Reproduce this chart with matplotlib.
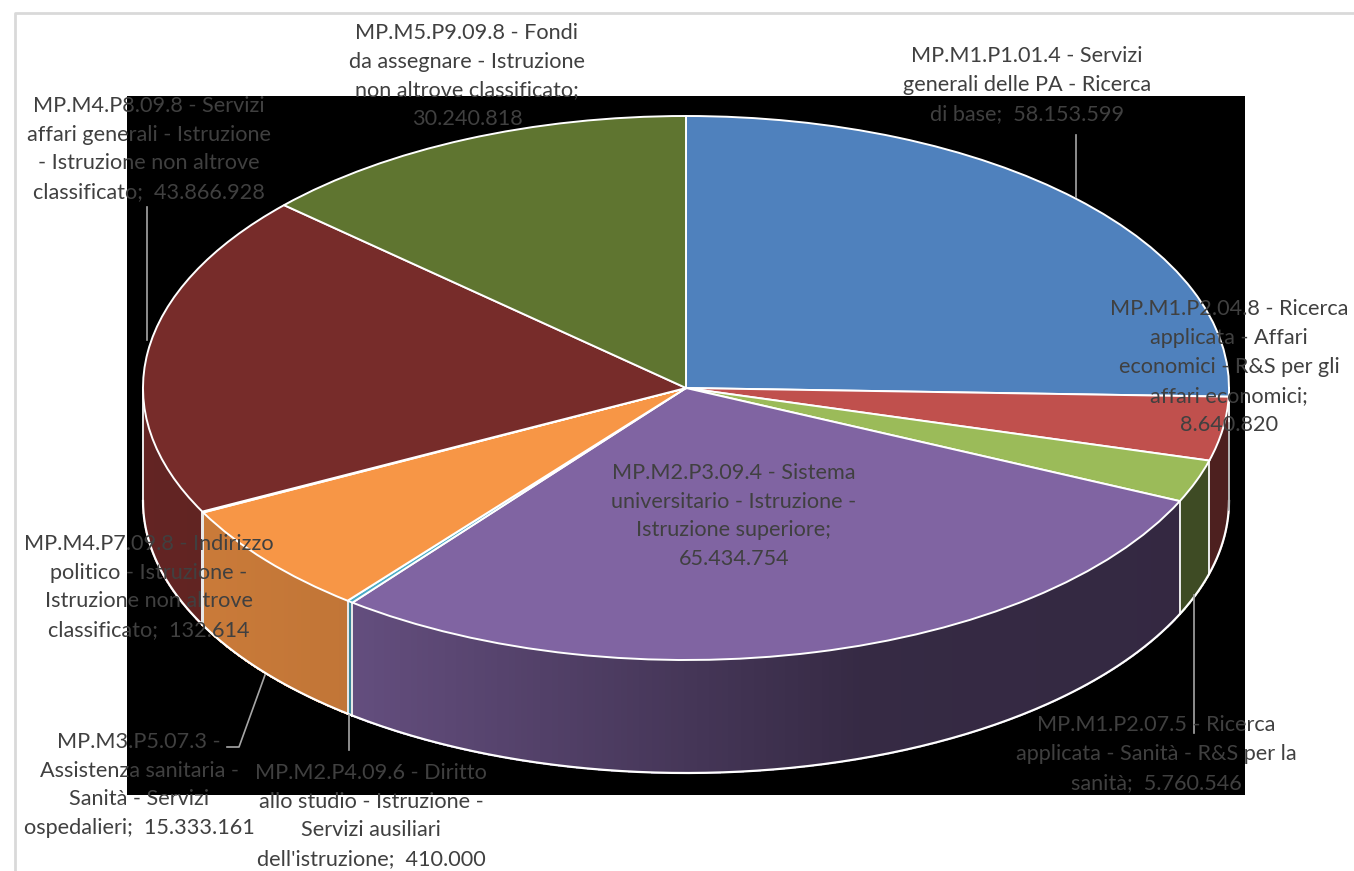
import numpy as np
import matplotlib
matplotlib.use('Agg')
import matplotlib.pyplot as plt
from matplotlib.colors import to_rgb
from matplotlib.lines import Line2D
from matplotlib.patches import Rectangle

# chart data
codes = ['MP.M1.P1.01.4', 'MP.M1.P2.04.8', 'MP.M1.P2.07.5', 'MP.M2.P3.09.4', 'MP.M2.P4.09.6',
         'MP.M3.P5.07.3', 'MP.M4.P7.09.8', 'MP.M4.P8.09.8', 'MP.M5.P9.09.8']
values = [58153599, 8640820, 5760546, 65434754, 410000, 15333161, 132614, 43866928, 30240818]
colors = ['#4f81bd', '#c0504d', '#9bbb59', '#8064a2', '#4bacc6', '#f79646', '#2c4d75', '#772c2a', '#5f7530']
labels = ['MP.M1.P1.01.4 - Servizi\ngenerali delle PA - Ricerca\ndi base;  58.153.599',
          'MP.M1.P2.04.8 - Ricerca\napplicata - Affari\neconomici - R&S per gli\naffari economici;\n8.640.820',
          'MP.M1.P2.07.5 - Ricerca\napplicata - Sanità - R&S per la\nsanità;  5.760.546',
          'MP.M2.P3.09.4 - Sistema\nuniversitario - Istruzione -\nIstruzione superiore;\n65.434.754',
          "MP.M2.P4.09.6 - Diritto\nallo studio - Istruzione -\nServizi ausiliari\ndell'istruzione;  410.000",
          'MP.M3.P5.07.3 -\nAssistenza sanitaria -\nSanità - Servizi\nospedalieri;  15.333.161',
          'MP.M4.P7.09.8 - Indirizzo\npolitico - Istruzione -\nIstruzione non altrove\nclassificato;  132.614',
          'MP.M4.P8.09.8 - Servizi\naffari generali - Istruzione\n- Istruzione non altrove\nclassificato;  43.866.928',
          'MP.M5.P9.09.8 - Fondi\nda assegnare - Istruzione\nnon altrove classificato;\n30.240.818']

W, H = 1354, 871
label_pos = [(1027, 85), (1229, 367), (1156, 754), (734, 516), (371, 816),
             (139, 785), (149, 587), (149, 149), (467, 76)]
# leader lines in pixels
leaders = [([1076, 1076], [135, 197]), ([1229, 1229], [423, 510]), ([1194, 1194], [595, 733]),
           ([349, 349], [715, 750]), ([265, 239, 227], [675, 747, 747]), ([147, 147], [207, 340])]


def px(x, y):
    return x / W, 1 - y / H


fig = plt.figure(figsize=(W / 100, H / 100), dpi=100, facecolor='white')

# chart frame and the black plot area
fig.add_artist(Line2D([15 / W, 15 / W, 1], [0, 1 - 13 / H, 1 - 13 / H], color='#d9d9d9', lw=2, zorder=0))
fig.add_artist(Rectangle(px(127, 795), (1245 - 127) / W, (795 - 96) / H, color='black', lw=0, zorder=0))

# the pie axes stretch the unit circle into the tilted ellipse
depth = 113 / 272
left, right, top, bottom = 143, 1229, 116, 773
ax = fig.add_axes([left / W, 1 - bottom / H, (right - left) / W, (bottom - top) / H], zorder=1)
ax.patch.set_alpha(0)

# side walls
fracs = np.array(values) / np.sum(values) * 360
edges = np.concatenate([[0], np.cumsum(fracs)])
for i, c in enumerate(colors):
    a0, a1 = max(edges[i], 90), min(edges[i + 1], 270)
    if a1 <= a0:
        continue
    steps = np.linspace(a0, a1, max(int((a1 - a0) * 1.5), 1) + 1)
    for s0, s1 in zip(steps[:-1], steps[1:]):
        t = np.radians([s0, s1])
        xs, ys = np.sin(t), np.cos(t)
        shade = np.interp(xs.mean(), [-1, -0.62, 0.32, 1], [0.83, 0.78, 0.42, 0.40])
        col = tuple(v * shade for v in to_rgb(c))
        # no antialias here, the seams between strips show otherwise
        ax.fill([xs[0], xs[1], xs[1], xs[0]], [ys[0], ys[1], ys[1] - depth, ys[0] - depth],
                color=col, lw=0.8, antialiased=False, zorder=1)
    t = np.radians(np.array([a0, a1]))
    ax.plot(np.sin(t[[0, 0]]), [np.cos(t[0]), np.cos(t[0]) - depth], color='#e8e8e8', lw=1.4, zorder=2)
    ax.plot(np.sin(t[[1, 1]]), [np.cos(t[1]), np.cos(t[1]) - depth], color='#e8e8e8', lw=1.4, zorder=2)

arc = np.radians(np.linspace(90, 270, 300))
ax.plot(np.sin(arc), np.cos(arc) - depth, color='white', lw=1.6, zorder=2)

# top face
ax.pie(values, colors=colors, startangle=90, counterclock=False, radius=1,
       wedgeprops={'edgecolor': 'white', 'linewidth': 1.4, 'zorder': 3})
ax.set_aspect('auto')
ax.set_xlim(-1, 1)
ax.set_ylim(-1 - depth, 1)
ax.axis('off')
for art in ax.patches + ax.lines:
    art.set_clip_on(False)

for xs, ys in leaders:
    fig.add_artist(Line2D([x / W for x in xs], [1 - y / H for y in ys], color='#a6a6a6', lw=1.2, zorder=2))

for lab, (x, y) in zip(labels, label_pos):
    fig.text(x / W, 1 - y / H, lab, ha='center', va='center', fontsize=15.6, color='#404040',
             family='Lato', linespacing=1.55, zorder=3)

fig.savefig('out.png', dpi=100)
